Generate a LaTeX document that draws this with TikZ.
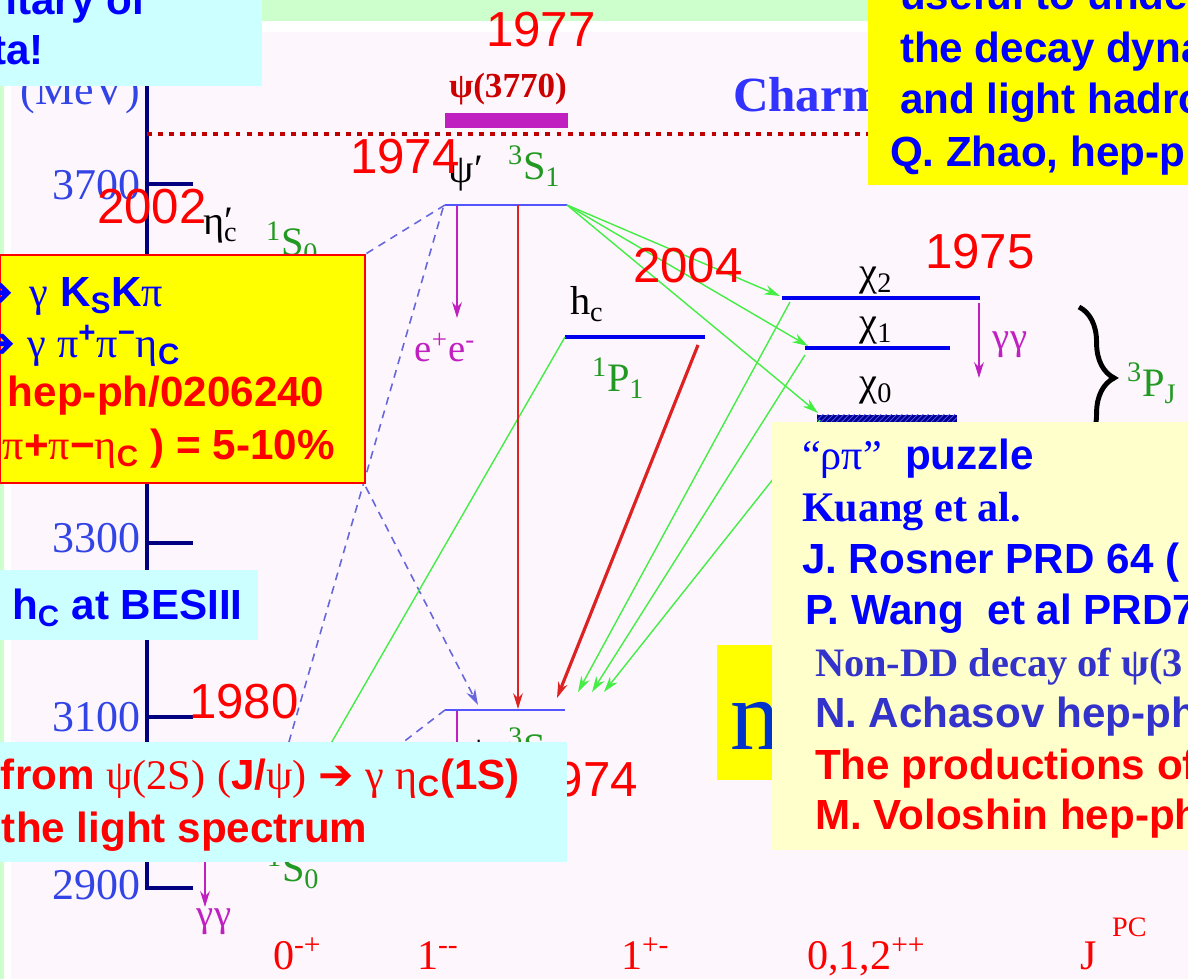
\documentclass[tikz,border=0pt]{standalone}
\usepackage{fontspec}
\setmainfont{Liberation Serif}
\setsansfont{Liberation Sans}
\newfontfamily\dingfont{DejaVu Sans}
\usetikzlibrary{arrows.meta, decorations.pathreplacing, patterns}

\definecolor{pinkbg}{HTML}{FDF7FD}
\definecolor{slidegreen}{HTML}{CCFFCC}
\definecolor{boxcyan}{HTML}{CCFFFF}
\definecolor{boxyellow}{HTML}{FFFF00}
\definecolor{paleyellow}{HTML}{FFFFCC}
\definecolor{axisnavy}{HTML}{000080}
\definecolor{axisblue}{HTML}{3344E6}
\definecolor{lvlblue}{HTML}{5555FF}
\definecolor{lvldark}{HTML}{0000EE}
\definecolor{chiblue}{HTML}{00008C}
\definecolor{specgreen}{HTML}{229922}
\definecolor{transgreen}{HTML}{44EE44}
\definecolor{dashblue}{HTML}{6666DD}
\definecolor{decayred}{HTML}{DD2222}
\definecolor{magentadk}{HTML}{C020C0}
\definecolor{dotred}{HTML}{C00000}
\definecolor{textblue}{HTML}{0000FF}
\definecolor{softblue}{HTML}{3333CC}
\definecolor{charmblue}{HTML}{3333FF}
\definecolor{nblue}{HTML}{0033CC}
\definecolor{textred}{HTML}{FF0000}
\definecolor{darkred}{HTML}{CC0000}

\newcommand{\fs}[1]{\fontsize{#1}{#1}\selectfont}
\newcommand{\gk}[1]{{\rmfamily\mdseries #1}}
\newcommand{\hvarrow}{{\dingfont ➔}}

\begin{document}
\begin{tikzpicture}[x=0.02cm, y=-0.02cm,
    lbl/.style={inner sep=0pt, outer sep=0pt},
    boxtxt/.style={lbl, anchor=base west, font=\fs{24pt}\sffamily\bfseries},
    year/.style={lbl, text=textred, font=\fs{28pt}\sffamily},
    axislbl/.style={lbl, anchor=base east, text=axisblue, font=\fs{25pt}\rmfamily},
    lvlname/.style={lbl, font=\fs{23pt}\rmfamily},
    spec/.style={lbl, anchor=base west, text=specgreen, font=\fs{23pt}\rmfamily},
    decay/.style={lbl, anchor=base, text=magentadk, font=\fs{22pt}\rmfamily},
    jpc/.style={lbl, anchor=base west, text=textred, font=\fs{24pt}\rmfamily},
    energyaxis/.style={draw=axisnavy, line width=2.4pt},
    lvlline/.style={draw=lvlblue, line width=1.3pt},
    lvlthick/.style={draw=lvldark, line width=2.3pt},
    arr/.style={-{Stealth[length=9pt, width=5.5pt]}},
    e1/.style={arr, draw=transgreen, line width=0.8pt},
    m1/.style={arr, draw=dashblue, line width=0.9pt, dash pattern=on 4.5pt off 3.5pt},
    gg/.style={arr, draw=magentadk, line width=0.9pt},
    thinred/.style={arr, draw=decayred, line width=0.8pt},
    thickred/.style={arr, draw=decayred, line width=1.8pt},
    dotline/.style={draw=dotred, line width=2.8pt, dash pattern=on 2.8pt off 3.5pt}
]
    \useasboundingbox (0,0) rectangle (1188,979);
    \clip (0,0) rectangle (1188,979);

    % Background of the slide
    \fill[white] (0,0) rectangle (1188,979);
    \fill[slidegreen] (0,0) rectangle (4,979);
    \fill[slidegreen] (0,0) rectangle (1188,21);
    \fill[pinkbg] (11,32) rectangle (1188,979);

    % Energy axis
    \coordinate (ax-top) at (147,85);
    \coordinate (ax-bot) at (147,888);
    \coordinate (ax-end) at (193,888);
    \draw[energyaxis] (ax-top) -- (ax-bot) -- (ax-end);
    \foreach \y/\b/\m in {184/200/3700, 543/553/3300, 717/732/3100} {
        \draw[energyaxis] (147,\y) -- (193,\y);
        \node[axislbl] (mev-\m) at (140,\b) {\m};
    }
    \node[axislbl] (mev-2900) at (140,900) {2900};
    \node[axislbl] (mev-unit) at (140,105) {(MeV)};

    % Open charm threshold
    \coordinate (thr-l) at (147,134);
    \coordinate (thr-r) at (870,134);
    \draw[dotline] (thr-l) -- (thr-r);
    \fill[magentadk] (445,113) rectangle (568,128);
    \node[lbl, anchor=base, text=darkred, font=\fs{20pt}\rmfamily\bfseries] (psi3770) at (508,98) {ψ(3770)};
    \node[lbl, anchor=base west, text=charmblue, font=\fs{28pt}\rmfamily\bfseries] (charm) at (733,112) {Charm};

    % Levels
    \coordinate (psip-l) at (445,205);
    \coordinate (psip-r) at (567,205);
    \coordinate (jpsi-l) at (445,710);
    \coordinate (jpsi-r) at (565,710);
    \coordinate (hc-l) at (565,337);
    \coordinate (hc-r) at (705,337);
    \coordinate (chi2-l) at (782,298);
    \coordinate (chi2-r) at (980,298);
    \coordinate (chi1-l) at (805,348);
    \coordinate (chi1-r) at (950,348);
    \draw[lvlline] (psip-l) -- (psip-r);
    \draw[lvlline] (jpsi-l) -- (jpsi-r);
    \draw[lvlthick] (hc-l) -- (hc-r);
    \draw[lvlthick] (chi2-l) -- (chi2-r);
    \draw[lvlthick] (chi1-l) -- (chi1-r);
    \fill[chiblue] (817,415) rectangle (957,423);
    \fill[pattern=north east lines, pattern color=lvlblue] (817,415) rectangle (957,423);

    % Level names
    \node[lvlname, anchor=base] (psip-name) at (466,183) {ψ′};
    \node[spec] (psip-spec) at (508,180) {\textsuperscript{3}S\textsubscript{1}};
    \node[lvlname, anchor=base west] (etacp-name) at (203,235) {η\rlap{′}\textsubscript{c}};
    \node[spec] (etacp-spec) at (266,256) {\textsuperscript{1}S\textsubscript{0}};
    \node[lvlname, anchor=base west] (hc-name) at (570,315) {h\textsubscript{c}};
    \node[spec] (hc-spec) at (592,392) {\textsuperscript{1}P\textsubscript{1}};
    \node[lvlname, anchor=base] (chi2-name) at (876,286) {χ\textsubscript{2}};
    \node[lvlname, anchor=base] (chi1-name) at (876,336) {χ\textsubscript{1}};
    \node[lvlname, anchor=base] (chi0-name) at (876,396) {χ\textsubscript{0}};
    \draw[decorate, decoration={brace, amplitude=20pt}, line width=2.8pt] (1079,307) -- (1079,449);
    \node[spec] (chij-spec) at (1127,397) {\textsuperscript{3}P\textsubscript{J}};
    \node[lvlname, anchor=base] (jpsi-name) at (479,765) {ψ};
    \node[spec] (jpsi-spec) at (508,762) {\textsuperscript{3}S\textsubscript{1}};
    \node[spec] (etac-spec) at (267,882) {\textsuperscript{1}S\textsubscript{0}};

    % Transition end points
    \coordinate (etacp) at (330,276);
    \coordinate (etacp-b) at (250,262);
    \coordinate (psip-lb) at (443,208);
    \coordinate (etac-a) at (267,818);
    \coordinate (etac-b) at (380,760);
    \coordinate (etac-c) at (288,818);
    \coordinate (jpsi-in) at (478,705);
    \coordinate (chi2-in) at (780,296);
    \coordinate (chi1-in) at (808,346);
    \coordinate (chi0-in) at (818,413);
    \coordinate (chi2-out) at (790,302);
    \coordinate (chi1-out) at (805,355);
    \coordinate (chi0-out) at (820,420);
    \coordinate (jpsi-g1) at (578,692);
    \coordinate (jpsi-g2) at (592,692);
    \coordinate (jpsi-g3) at (604,692);
    \coordinate (psip-m) at (518,205);
    \coordinate (jpsi-m) at (518,709);
    \coordinate (hc-out) at (698,345);
    \coordinate (jpsi-red) at (557,698);
    \coordinate (psip-ee) at (457,206);
    \coordinate (ee-end) at (457,318);
    \coordinate (jpsi-ee) at (457,711);
    \coordinate (jpsi-ee-end) at (457,800);
    \coordinate (chi2-gg) at (979,303);
    \coordinate (chi2-gg-end) at (979,378);
    \coordinate (etac-gg) at (205,818);
    \coordinate (etac-gg-end) at (205,907);

    % M1 transitions
    \draw[m1] (psip-l) -- (etacp);
    \draw[m1] (psip-lb) -- (etac-a);
    \draw[m1] (etacp-b) -- (jpsi-in);
    \draw[m1] (jpsi-l) -- (etac-b);

    % E1 transitions
    \draw[e1] (psip-r) -- (chi2-in);
    \draw[e1] (psip-r) -- (chi1-in);
    \draw[e1] (psip-r) -- (chi0-in);
    \draw[e1] (chi2-out) -- (jpsi-g1);
    \draw[e1] (chi1-out) -- (jpsi-g2);
    \draw[e1] (chi0-out) -- (jpsi-g3);
    \draw[e1] (hc-l) -- (etac-c);

    % Hadronic and annihilation decays
    \draw[thinred] (psip-m) -- (jpsi-m);
    \draw[thickred] (hc-out) -- (jpsi-red);
    \draw[gg] (psip-ee) -- (ee-end);
    \node[decay] (ee-name) at (445,362) {e\textsuperscript{+}e\textsuperscript{-}};
    \draw[gg] (jpsi-ee) -- (jpsi-ee-end);
    \draw[gg] (chi2-gg) -- (chi2-gg-end);
    \node[decay] (chi-gg) at (1010,350) {γγ};
    \draw[gg] (etac-gg) -- (etac-gg-end);
    \node[decay] (etac-gg-name) at (214,927) {γγ};

    % J^PC row
    \node[jpc] (jpc-0mp) at (273,970) {0\textsuperscript{-+}};
    \node[jpc] (jpc-1mm) at (417,970) {1\textsuperscript{-{}-}};
    \node[jpc] (jpc-1pm) at (621,970) {1\textsuperscript{+-}};
    \node[jpc] (jpc-chi) at (807,970) {0,1,2\textsuperscript{++}};
    \node[jpc] (jpc-head) at (1080,970) {J\hspace{9pt}\raisebox{19pt}{\fs{16pt}PC}};

    % Discovery years
    \node[year] (yr-1977) at (541,30) {1977};
    \node[year] (yr-1974a) at (405,157) {1974};
    \node[year] (yr-2002) at (152,207) {2002};
    \node[year] (yr-2004) at (688,266) {2004};
    \node[year] (yr-1975) at (980,252) {1975};
    \node[year] (yr-1980) at (244,702) {1980};
    \node[year, anchor=base east] (yr-1974b) at (638,797) {1974};

    % Text boxes
    \fill[boxcyan] (0,0) rectangle (262,86);
    \node[boxtxt, anchor=base east, text=textblue] (note-a1) at (146,15) {ntary of};
    \node[boxtxt, anchor=base east, text=textblue] (note-a2) at (44,65) {ta!};

    \fill[boxyellow] (868,0) rectangle (1188,185);
    \node[boxtxt, text=textblue] (zhao-1) at (900,10) {useful to unde};
    \node[boxtxt, text=textblue] (zhao-2) at (900,63) {the decay dyna};
    \node[boxtxt, text=textblue] (zhao-3) at (900,114) {and light hadro};
    \node[boxtxt, text=textblue] (zhao-4) at (890,167) {Q. Zhao, hep-p};

    \draw[fill=boxyellow, draw=textred, line width=1.2pt] (0,255) rectangle (365,483);
    \node[boxtxt, anchor=base east, text=textblue] (etacp-r1) at (14,307) {\hvarrow};
    \node[boxtxt, text=textblue] (etacp-t1) at (30,307) {\gk{γ} K\textsubscript{S}K\gk{π}};
    \node[boxtxt, anchor=base east, text=textblue] (etacp-r2) at (16,358) {\hvarrow};
    \node[boxtxt, text=textblue] (etacp-t2) at (28,358) {\gk{γ π}\textsuperscript{+}\gk{π}\textsuperscript{−}\gk{η}\textsubscript{C}};
    \node[boxtxt, text=textred] (etacp-t3) at (8,407) {hep-ph/0206240};
    \node[boxtxt, text=textred] (etacp-t4) at (3,460) {\gk{π}+\gk{π}−\gk{η}\textsubscript{C} ) = 5-10\%};

    \fill[boxcyan] (0,570) rectangle (258,640);
    \node[boxtxt, text=textblue] (hc-bes) at (12,620) {h\textsubscript{C} at BESIII};

    \fill[boxyellow] (717,645) rectangle (772,780);
    \node[lbl, anchor=base west, text=nblue, font=\fs{57pt}\rmfamily] (n-char) at (730,750) {n};

    \fill[paleyellow] (772,422) rectangle (1188,850);
    \node[boxtxt, text=textblue] (rp-1) at (802,470) {\gk{“ρπ”}\ \ puzzle};
    \node[boxtxt, text=textblue, font=\fs{24pt}\rmfamily\bfseries] (rp-2) at (802,522) {Kuang et al.};
    \node[boxtxt, text=textblue] (rp-3) at (802,574) {J. Rosner PRD 64 (};
    \node[boxtxt, text=textblue] (rp-4) at (805,625) {P. Wang\ \ et al PRD7};
    \node[boxtxt, text=softblue, font=\fs{23pt}\rmfamily\bfseries] (rp-5) at (815,677) {Non-DD decay of ψ(3};
    \node[boxtxt, text=softblue] (rp-6) at (815,728) {N. Achasov hep-ph};
    \node[boxtxt, text=textred] (rp-7) at (815,780) {The productions of};
    \node[boxtxt, text=textred] (rp-8) at (815,830) {M. Voloshin hep-ph};

    \fill[boxcyan] (0,742) rectangle (567,862);
    \node[boxtxt, text=textred] (light-1) at (1,790) {from \gk{ψ(2S)} \gk{(}J/\gk{ψ)} \hvarrow\ \gk{γ} \gk{η}\textsubscript{C}(1S)};
    \node[boxtxt, text=textred] (light-2) at (2,843) {the light spectrum};
\end{tikzpicture}
\end{document}
